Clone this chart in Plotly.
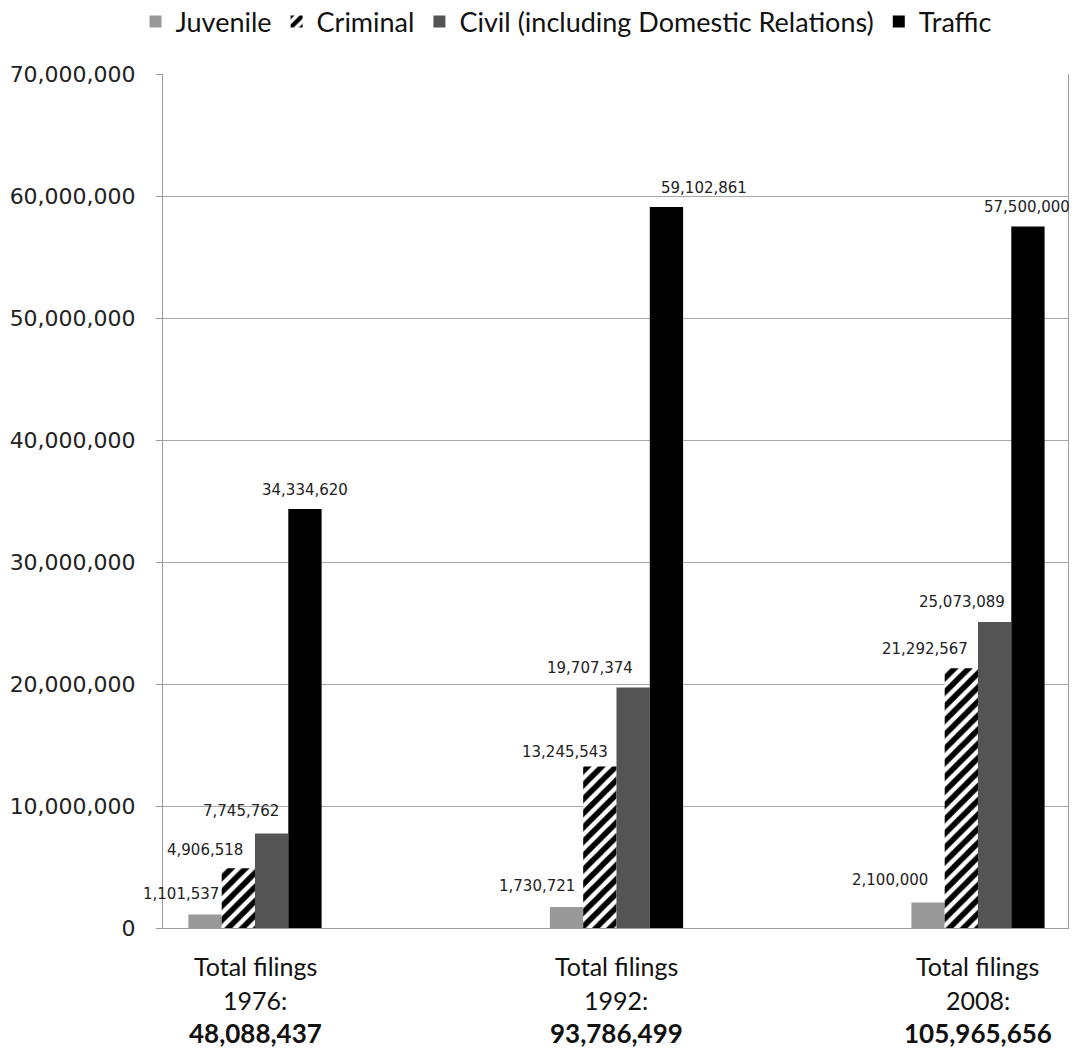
import plotly.graph_objects as go

# Court filings by case type, three survey years
years = ["1976", "1992", "2008"]
totals = [48088437, 93786499, 105965656]
series_names = ["Juvenile", "Criminal", "Civil (including Domestic Relations)", "Traffic"]
juvenile = [1101537, 1730721, 2100000]
criminal = [4906518, 13245543, 21292567]
civil = [7745762, 19707374, 25073089]
traffic = [34334620, 59102861, 57500000]
y_ticks = [0, 10000000, 20000000, 30000000, 40000000, 50000000, 60000000, 70000000]

series_values = [juvenile, criminal, civil, traffic]

# styling
colors = ["#999999", "#ffffff", "#545454", "#000000"]
label_font = dict(family="DejaVu Sans", size=15, color="#222222")
cat_font = "Lato, Open Sans, sans-serif"
# per-label horizontal nudges (px) for the value labels, by series then year
label_dx = [
    [-24, -30, -38],
    [-33, -35, -36],
    [-31, -43, -33],
    [0, 38, -1],
]
label_dy = [
    [21, 21, 22],
    [18, 14, 19],
    [23, 20, 20],
    [19, 19, 20],
]

x_pos = list(range(len(years)))
n_series = len(series_names)
bargap = 0.6315
bar_w = (1 - bargap) / n_series

fig = go.Figure()
for k, (name, vals) in enumerate(zip(series_names, series_values)):
    marker = dict(color=colors[k], line=dict(width=0))
    if name == "Criminal":
        marker["pattern"] = dict(shape="/", fgcolor="#000000", bgcolor="#ffffff",
                                 size=10, solidity=0.55, fillmode="replace")
    fig.add_trace(go.Bar(name=name, x=x_pos, y=vals, marker=marker, hoverinfo="skip"))

annotations = []
for k, vals in enumerate(series_values):
    off = (k - (n_series - 1) / 2) * bar_w
    for i, v in enumerate(vals):
        annotations.append(dict(
            x=x_pos[i] + off, y=v, xref="x", yref="y",
            text=f"{v:,}", showarrow=False, font=label_font,
            xanchor="center", yanchor="middle",
            xshift=label_dx[k][i], yshift=label_dy[k][i],
        ))

# category labels under the axis
for i, (yr, tot) in enumerate(zip(years, totals)):
    annotations.append(dict(x=x_pos[i], y=0, xref="x", yref="paper",
                            text="Total filings", showarrow=False, yanchor="middle",
                            yshift=-38, font=dict(family=cat_font, size=25, color="#111111")))
    annotations.append(dict(x=x_pos[i], y=0, xref="x", yref="paper",
                            text=f"{yr}:", showarrow=False, yanchor="middle",
                            yshift=-72, font=dict(family=cat_font, size=25, color="#111111")))
    annotations.append(dict(x=x_pos[i], y=0, xref="x", yref="paper",
                            text=f"<b>{tot:,}</b>", showarrow=False, yanchor="middle",
                            yshift=-105, font=dict(family=cat_font, size=26, color="#111111")))

fig.update_layout(
    width=1075, height=1053,
    margin=dict(l=163, r=7, t=74, b=125),
    paper_bgcolor="white", plot_bgcolor="white",
    barmode="group", bargap=bargap, bargroupgap=0,
    showlegend=True,
    legend=dict(orientation="h", xref="container", yref="container",
                x=0.527, xanchor="center", y=1 - 22 / 1053, yanchor="middle",
                font=dict(family=cat_font, size=27, color="#111111"),
                itemwidth=30, tracegroupgap=0, traceorder="normal"),
    annotations=annotations,
)
fig.update_xaxes(range=[-0.2545, 2.249], showticklabels=False, showgrid=False,
                 zeroline=False, showline=True, linecolor="#9a9a9a", linewidth=1,
                 ticks="")
fig.update_yaxes(range=[0, 70000000], tickvals=y_ticks, tickformat=",d",
                 tickfont=dict(family="DejaVu Sans", size=22, color="#222222"),
                 showgrid=True, gridcolor="#a8a8a8", gridwidth=1,
                 zeroline=False, showline=True, linecolor="#9a9a9a", linewidth=1,
                 mirror=True, ticks="outside", ticklen=6, tickcolor="#9a9a9a",
                 ticklabelstandoff=16)

fig.write_html("out.html")
